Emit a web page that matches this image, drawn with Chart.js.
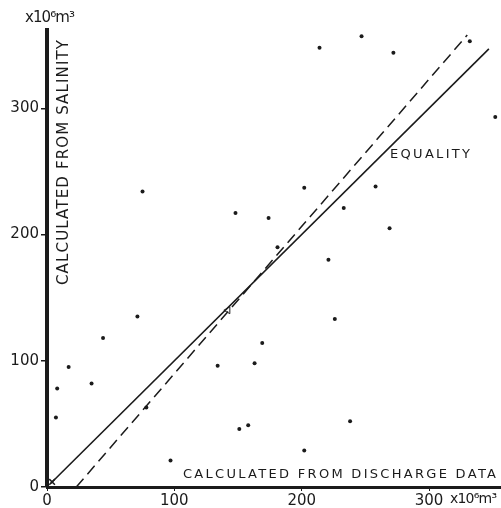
<!DOCTYPE html>
<html>
<head>
<meta charset="utf-8">
<script src="https://cdn.jsdelivr.net/npm/chart.js@4/dist/chart.umd.min.js"></script>
<style>
  html, body { margin: 0; padding: 0; background: #fff; }
  canvas { display: block; }
</style>
</head>
<body>
<canvas id="volumeChart" width="501" height="508"></canvas>
<script>
// Volumes in x10^6 m^3: from discharge data (x) vs from salinity (y)
const dischargeVolumes = [214, 247, 272, 332, 352, 75, 71, 44, 202, 233, 174, 148, 181, 221, 226,
                          258, 269, 17, 8, 35, 7, 78, 97, 169, 163, 134, 151, 158, 238, 202];
const salinityVolumes  = [348, 357, 344, 353, 293, 234, 135, 118, 237, 221, 213, 217, 190, 180, 133,
                          238, 205, 95, 78, 82, 55, 63, 21, 114, 98, 96, 46, 49, 52, 29];

// equality line and the dashed fitted line
const equalityX = [3, 347];
const equalityY = [3, 347];
const fittedX = [23, 330];
const fittedY = [0, 358];

// odd marks on the plot
const triangleX = [142];
const triangleY = [140];
const originX = [4];
const originY = [4];

const tickValues = [0, 100, 200, 300];

const toPoints = (xs, ys) => xs.map((x, i) => ({ x: x, y: ys[i] }));

const INK = '#1b1b1b';
const FONT = '"DejaVu Sans", sans-serif';

// stretch text to a given width with letter spacing
function fitText(ctx, text, x, y, width, size) {
    ctx.font = size + 'px ' + FONT;
    ctx.letterSpacing = '0px';
    const w = ctx.measureText(text).width;
    ctx.letterSpacing = ((width - w) / (text.length - 1)) + 'px';
    ctx.fillText(text, x, y);
    ctx.letterSpacing = '0px';
}

const labelsPlugin = {
    id: 'labels',
    afterDatasetsDraw(chart) {
        const ctx = chart.ctx;
        ctx.save();
        ctx.fillStyle = INK;
        ctx.textAlign = 'left';
        ctx.textBaseline = 'alphabetic';

        fitText(ctx, 'CALCULATED FROM DISCHARGE DATA', 183, 478, 313, 13);
        fitText(ctx, 'EQUALITY', 390, 158, 80, 13);
        fitText(ctx, 'x10⁶m³', 25, 22, 50, 15);
        fitText(ctx, 'x10⁶m³', 450, 503, 47, 14);

        ctx.save();
        ctx.translate(68, 285);
        ctx.rotate(-Math.PI / 2);
        fitText(ctx, 'CALCULATED FROM SALINITY', 0, 0, 245, 15);
        ctx.restore();

        ctx.restore();
    }
};

const volumeChart = new Chart(document.getElementById('volumeChart'), {
    type: 'scatter',
    data: {
        datasets: [
            {
                label: 'Volumes',
                data: toPoints(dischargeVolumes, salinityVolumes),
                backgroundColor: INK,
                borderColor: INK,
                pointRadius: 2,
                pointBorderWidth: 0,
                clip: false,
            },
            {
                label: 'Equality',
                type: 'line',
                data: toPoints(equalityX, equalityY),
                borderColor: INK,
                borderWidth: 1.6,
                pointRadius: 0,
                fill: false,
            },
            {
                label: 'Fitted',
                type: 'line',
                data: toPoints(fittedX, fittedY),
                borderColor: INK,
                borderWidth: 1.5,
                borderDash: [11, 6],
                pointRadius: 0,
                fill: false,
            },
            {
                label: 'Triangle',
                data: toPoints(triangleX, triangleY),
                pointStyle: 'triangle',
                rotation: -90,
                pointRadius: 4,
                backgroundColor: '#fff',
                borderColor: INK,
                borderWidth: 1,
            },
            {
                label: 'Origin',
                data: toPoints(originX, originY),
                pointStyle: 'crossRot',
                pointRadius: 4,
                borderColor: INK,
                borderWidth: 1.5,
                clip: false,
            }
        ]
    },
    options: {
        responsive: false,
        animation: false,
        layout: { autoPadding: false, padding: { top: 30, right: 0, left: 0, bottom: 0 } },
        plugins: {
            legend: { display: false },
            tooltip: { enabled: false },
        },
        scales: {
            x: {
                type: 'linear',
                min: 0,
                max: 356.5,
                border: { color: INK, width: 3 },
                grid: { drawOnChartArea: false, drawTicks: true, tickLength: 4, color: INK, lineWidth: 1 },
                ticks: {
                    stepSize: 100,
                    includeBounds: false,
                    autoSkip: false,
                    maxRotation: 0,
                    padding: 1,
                    color: INK,
                    font: { family: FONT, size: 15 },
                    callback: v => tickValues.includes(v) ? String(v) : '',
                },
                afterFit: scale => {
                    scale.height = 21;
                    scale.paddingLeft = 0;
                    scale.paddingRight = 0;
                },
            },
            y: {
                type: 'linear',
                min: 0,
                max: 362,
                border: { color: INK, width: 4 },
                grid: { drawOnChartArea: false, drawTicks: true, tickLength: 6, color: INK, lineWidth: 1.5 },
                ticks: {
                    stepSize: 100,
                    includeBounds: false,
                    autoSkip: false,
                    padding: 2,
                    color: INK,
                    font: { family: FONT, size: 15 },
                    callback: v => tickValues.includes(v) ? String(v) : '',
                },
                afterFit: scale => {
                    scale.width = 47;
                    scale.paddingTop = 0;
                    scale.paddingBottom = 0;
                },
            }
        }
    },
    plugins: [labelsPlugin]
});
</script>
</body>
</html>
